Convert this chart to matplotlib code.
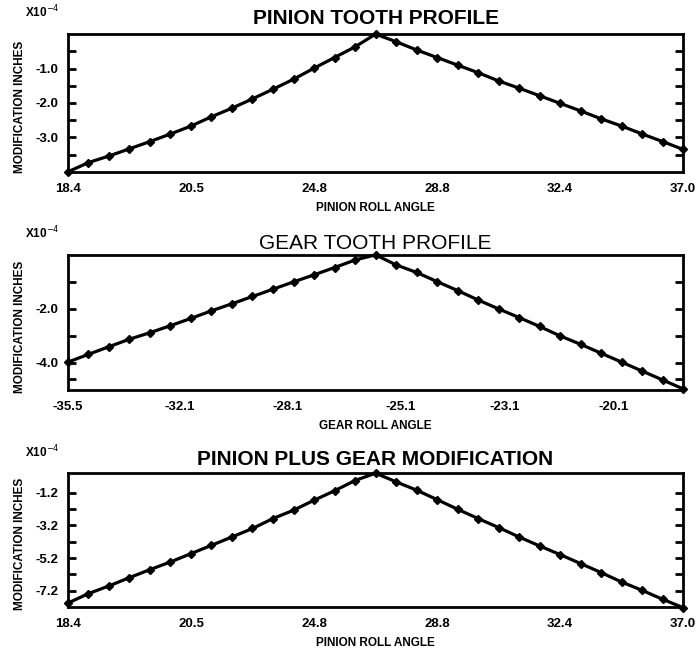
import numpy as np
import matplotlib
matplotlib.use("Agg")
import matplotlib.pyplot as plt

# ---------- data (units of 1e-4 inch) ----------

# 31 roll-angle stations, peak relief at station 15
pinion_mod = [-4.00, -3.73, -3.54, -3.33, -3.12, -2.90, -2.67, -2.40, -2.15, -1.88,
              -1.60, -1.31, -0.99, -0.68, -0.37, 0.00, -0.22, -0.46, -0.68, -0.90,
              -1.12, -1.36, -1.57, -1.79, -2.01, -2.23, -2.46, -2.67, -2.90, -3.12, -3.35]
gear_mod = [-3.97, -3.68, -3.40, -3.12, -2.88, -2.62, -2.35, -2.07, -1.81, -1.54,
            -1.27, -1.00, -0.74, -0.47, -0.19, 0.00, -0.37, -0.65, -0.99, -1.32,
            -1.67, -2.00, -2.32, -2.65, -3.00, -3.31, -3.64, -3.97, -4.30, -4.63, -4.96]
total_mod = [-7.96, -7.38, -6.91, -6.40, -5.91, -5.44, -4.93, -4.42, -3.91, -3.39,
             -2.78, -2.27, -1.66, -1.08, -0.45, 0.00, -0.53, -1.04, -1.62, -2.21,
             -2.78, -3.33, -3.91, -4.46, -4.99, -5.54, -6.09, -6.67, -7.18, -7.73, -8.24]

pinion_xlabels = ["18.4", "20.5", "24.8", "28.8", "32.4", "37.0"]
gear_xlabels = ["-35.5", "-32.1", "-28.1", "-25.1", "-23.1", "-20.1"]

pinion_yticks = [-0.5, -1.0, -1.5, -2.0, -2.5, -3.0, -3.5]
pinion_ylabels = {-1.0: "-1.0", -2.0: "-2.0", -3.0: "-3.0"}
gear_yticks = [-1.0, -2.0, -3.0, -4.0, -4.6]
gear_ylabels = {-2.0: "-2.0", -4.0: "-4.0"}
total_yticks = [-1.2, -2.2, -3.2, -4.2, -5.2, -6.2, -7.2]
total_ylabels = {-1.2: "-1.2", -3.2: "-3.2", -5.2: "-5.2", -7.2: "-7.2"}

FONT = ["Liberation Sans", "DejaVu Sans"]
plt.rcParams["font.family"] = FONT


def draw_panel(fig, rect, values, ylim, yticks, ylabels, xtick_pos, xlabels,
               title, title_weight, title_pad, xlabel):
    ax = fig.add_axes(rect)
    x = np.arange(len(values))
    ax.plot(x, values, color="black", lw=2.3, marker="D", ms=3.8,
            mfc="black", mec="black", clip_on=False, zorder=3)
    ax.set_xlim(0, len(values) - 1)
    ax.set_ylim(*ylim)

    ax.set_xticks(xtick_pos)
    ax.set_xticklabels(xlabels, fontsize=9.5, fontweight="bold")
    ax.tick_params(axis="x", length=0, pad=8)

    ax.set_yticks(yticks)
    ax.set_yticklabels([ylabels.get(t, "") for t in yticks],
                       fontsize=9.5, fontweight="bold")
    ax.tick_params(axis="y", direction="in", length=6, width=2.0,
                   left=True, right=True, pad=7)

    for s in ax.spines.values():
        s.set_linewidth(2.0)

    ax.set_title(title, fontsize=15, fontweight=title_weight, pad=title_pad)
    ax.set_xlabel(xlabel, fontsize=8.5, fontweight="bold", labelpad=5)
    ax.set_ylabel("MODIFICATION INCHES", fontsize=8.5, fontweight="bold")
    ax.yaxis.set_label_coords(-0.068, 0.47)
    ax.text(-0.07, 1.16, r"X10$^{-4}$", transform=ax.transAxes,
            fontsize=8.5, fontweight="bold", ha="left", va="center")
    return ax


fig = plt.figure(figsize=(7.0, 6.56), dpi=100)
left, width = 0.097, 0.879
even_ticks = np.linspace(0, len(pinion_mod) - 1, len(pinion_xlabels))
gear_ticks = [0, 5.46, 10.7, 16.2, 21.3, 26.6]

draw_panel(fig, [left, 0.738, width, 0.210], pinion_mod, (-4.0, 0.0),
           pinion_yticks, pinion_ylabels, even_ticks, pinion_xlabels,
           "PINION TOOTH PROFILE", "bold", 7, "PINION ROLL ANGLE")
draw_panel(fig, [left, 0.4055, width, 0.206], gear_mod, (-5.0, 0.0),
           gear_yticks, gear_ylabels, gear_ticks, gear_xlabels,
           "GEAR TOOTH PROFILE", "normal", 4, "GEAR ROLL ANGLE")
draw_panel(fig, [left, 0.0747, width, 0.204], total_mod, (-8.2, 0.0),
           total_yticks, total_ylabels, even_ticks, pinion_xlabels,
           "PINION PLUS GEAR MODIFICATION", "bold", 6, "PINION ROLL ANGLE")

fig.savefig("out.png", dpi=100, facecolor="white")
